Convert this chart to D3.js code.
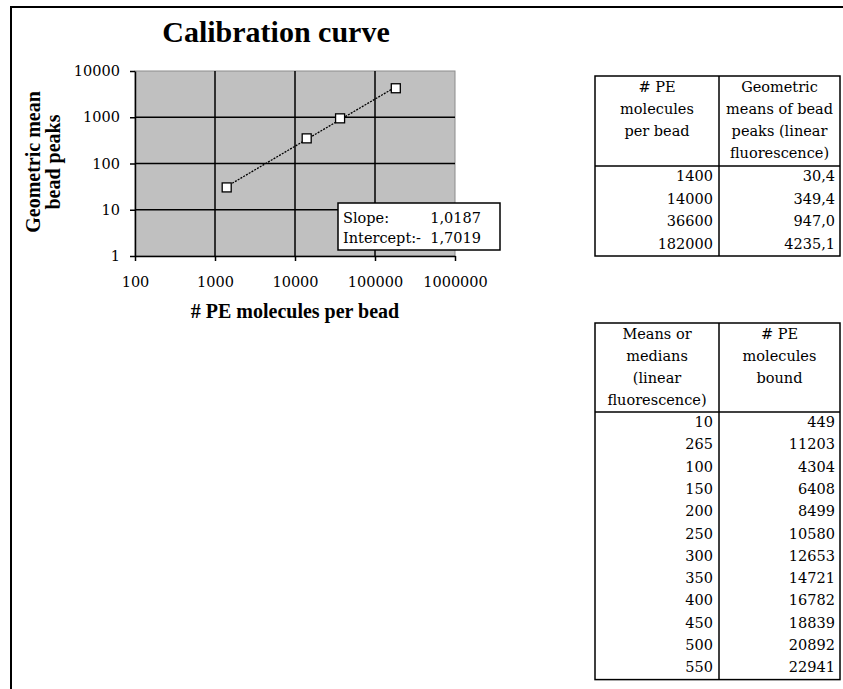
<!DOCTYPE html>
<html>
<head>
<meta charset="utf-8">
<script src="https://cdn.jsdelivr.net/npm/d3@7"></script>
<style>
    body { margin: 0; background: #fff; }
    svg text { font-family: "DejaVu Serif", serif; fill: #000; }
    .bold { font-family: "Liberation Serif", "Times New Roman", serif !important; font-weight: bold; }
</style>
</head>
<body>
<div id="canvas"></div>
<script>
// data
const beadMolecules = [1400, 14000, 36600, 182000];
const beadPeaks = [30.4, 349.4, 947.0, 4235.1];
const slope = 1.0187;
const intercept = -1.7019;

const means = [10, 265, 100, 150, 200, 250, 300, 350, 400, 450, 500, 550];
const bound = [449, 11203, 4304, 6408, 8499, 10580, 12653, 14721, 16782, 18839, 20892, 22941];

const xTicks = [100, 1000, 10000, 100000, 1000000];
const yTicks = [1, 10, 100, 1000, 10000];

const header1 = [["# PE", "molecules", "per bead"], ["Geometric", "means of bead", "peaks (linear", "fluorescence)"]];
const header2 = [["Means or", "medians", "(linear", "fluorescence)"], ["# PE", "molecules", "bound"]];

const comma = v => d3.format(".1f")(v).replace(".", ",");

const width = 843;
const height = 689;

const svg = d3.select("#canvas").append("svg")
    .attr("width", width)
    .attr("height", height);

// page frame (top + left)
svg.append("path")
    .attr("d", `M11,${height} V7 H${width}`)
    .attr("fill", "none")
    .attr("stroke", "#000")
    .attr("stroke-width", 2);

// chart
const plot = { left: 135, right: 455, top: 71, bottom: 256 };

const x = d3.scaleLog().domain([100, 1000000]).range([plot.left, plot.right]);
const y = d3.scaleLog().domain([1, 10000]).range([plot.bottom, plot.top]);

svg.append("text")
    .attr("class", "bold")
    .attr("x", 276)
    .attr("y", 42)
    .attr("text-anchor", "middle")
    .style("font-size", "30px")
    .text("Calibration curve");

svg.append("rect")
    .attr("x", plot.left)
    .attr("y", plot.top)
    .attr("width", plot.right - plot.left)
    .attr("height", plot.bottom - plot.top)
    .attr("fill", "#c0c0c0")
    .attr("stroke", "#8c8c8c")
    .attr("stroke-width", 1);

const grid = svg.append("g").attr("stroke", "#000").attr("stroke-width", 1.5);
grid.selectAll(".gy").data(yTicks.slice(1, -1)).enter().append("line")
    .attr("x1", plot.left).attr("x2", plot.right)
    .attr("y1", d => y(d)).attr("y2", d => y(d));
grid.selectAll(".gx").data(xTicks.slice(1, -1)).enter().append("line")
    .attr("y1", plot.top).attr("y2", plot.bottom)
    .attr("x1", d => x(d)).attr("x2", d => x(d));

const xAxis = svg.append("g")
    .attr("transform", `translate(0,${plot.bottom})`)
    .call(d3.axisBottom(x).tickValues(xTicks).tickFormat(d3.format("d")).tickSizeInner(5).tickSizeOuter(0).tickPadding(16));
const yAxis = svg.append("g")
    .attr("transform", `translate(${plot.left},0)`)
    .call(d3.axisLeft(y).tickValues(yTicks).tickFormat(d3.format("d")).tickSizeInner(5).tickSizeOuter(0).tickPadding(10));

[xAxis, yAxis].forEach(a => {
    a.selectAll("path, line").attr("stroke", "#000").attr("stroke-width", 1.5);
    a.selectAll("text").style("font-family", "DejaVu Serif").style("font-size", "14.5px");
});

// trend line from the fit
const fit = v => Math.pow(10, slope * Math.log10(v) + intercept);
const xr = d3.extent(beadMolecules);
svg.append("line")
    .attr("x1", x(xr[0])).attr("y1", y(fit(xr[0])))
    .attr("x2", x(xr[1])).attr("y2", y(fit(xr[1])))
    .attr("stroke", "#000")
    .attr("stroke-width", 1.3)
    .attr("stroke-dasharray", "2,1.2");

svg.selectAll(".pt").data(beadMolecules).enter().append("rect")
    .attr("x", (d) => x(d) - 4.5)
    .attr("y", (d, i) => y(beadPeaks[i]) - 4.5)
    .attr("width", 9)
    .attr("height", 9)
    .attr("fill", "#fff")
    .attr("stroke", "#000")
    .attr("stroke-width", 1.3);

// fit box
const box = svg.append("g");
box.append("rect")
    .attr("x", 338).attr("y", 203)
    .attr("width", 162).attr("height", 47)
    .attr("fill", "#fff")
    .attr("stroke", "#000")
    .attr("stroke-width", 1.5);
box.append("text").attr("x", 343).attr("y", 223).style("font-size", "14.5px").text("Slope:");
box.append("text").attr("x", 481).attr("y", 223).attr("text-anchor", "end").style("font-size", "14.5px").text(d3.format(".4f")(slope).replace(".", ","));
box.append("text").attr("x", 343).attr("y", 243).style("font-size", "14.5px").text("Intercept:-");
box.append("text").attr("x", 481).attr("y", 243).attr("text-anchor", "end").style("font-size", "14.5px").text(d3.format(".4f")(-intercept).replace(".", ","));

// axis titles
svg.append("text")
    .attr("class", "bold")
    .attr("x", 295)
    .attr("y", 318)
    .attr("text-anchor", "middle")
    .style("font-size", "20px")
    .text("# PE molecules per bead");

const yt = svg.append("text")
    .attr("class", "bold")
    .attr("transform", "translate(0,162) rotate(-90)")
    .attr("text-anchor", "middle")
    .style("font-size", "20px");
yt.append("tspan").attr("x", 0).attr("y", 40).text("Geometric mean");
yt.append("tspan").attr("x", 0).attr("y", 60).text("bead peaks");

// tables
const drawTable = (top, headLines, rows, rowH, headH) => {
    const left = 595, mid = 719, right = 840;
    const g = svg.append("g");
    const bottom = top + headH + rows.length * rowH;
    g.append("rect")
        .attr("x", left).attr("y", top)
        .attr("width", right - left).attr("height", bottom - top)
        .attr("fill", "none").attr("stroke", "#000").attr("stroke-width", 1.5);
    g.append("line").attr("x1", mid).attr("x2", mid).attr("y1", top).attr("y2", bottom)
        .attr("stroke", "#000").attr("stroke-width", 1.5);
    g.append("line").attr("x1", left).attr("x2", right).attr("y1", top + headH).attr("y2", top + headH)
        .attr("stroke", "#000").attr("stroke-width", 1.5);

    const centers = [(left + mid) / 2, (mid + right) / 2];
    headLines.forEach((lines, c) => {
        lines.forEach((t, i) => {
            g.append("text")
                .attr("x", centers[c])
                .attr("y", top + 16 + i * 22)
                .attr("text-anchor", "middle")
                .style("font-size", "14.5px")
                .text(t);
        });
    });
    const ends = [mid - 6, right - 5];
    rows.forEach((r, i) => {
        r.forEach((t, c) => {
            g.append("text")
                .attr("x", ends[c])
                .attr("y", top + headH + 15 + i * rowH)
                .attr("text-anchor", "end")
                .style("font-size", "14.5px")
                .text(t);
        });
    });
};

drawTable(76, header1, beadMolecules.map((d, i) => [d, comma(beadPeaks[i])]), 22.5, 90);
drawTable(323, header2, means.map((d, i) => [d, bound[i]]), 22.3, 89);
</script>
</body>
</html>
